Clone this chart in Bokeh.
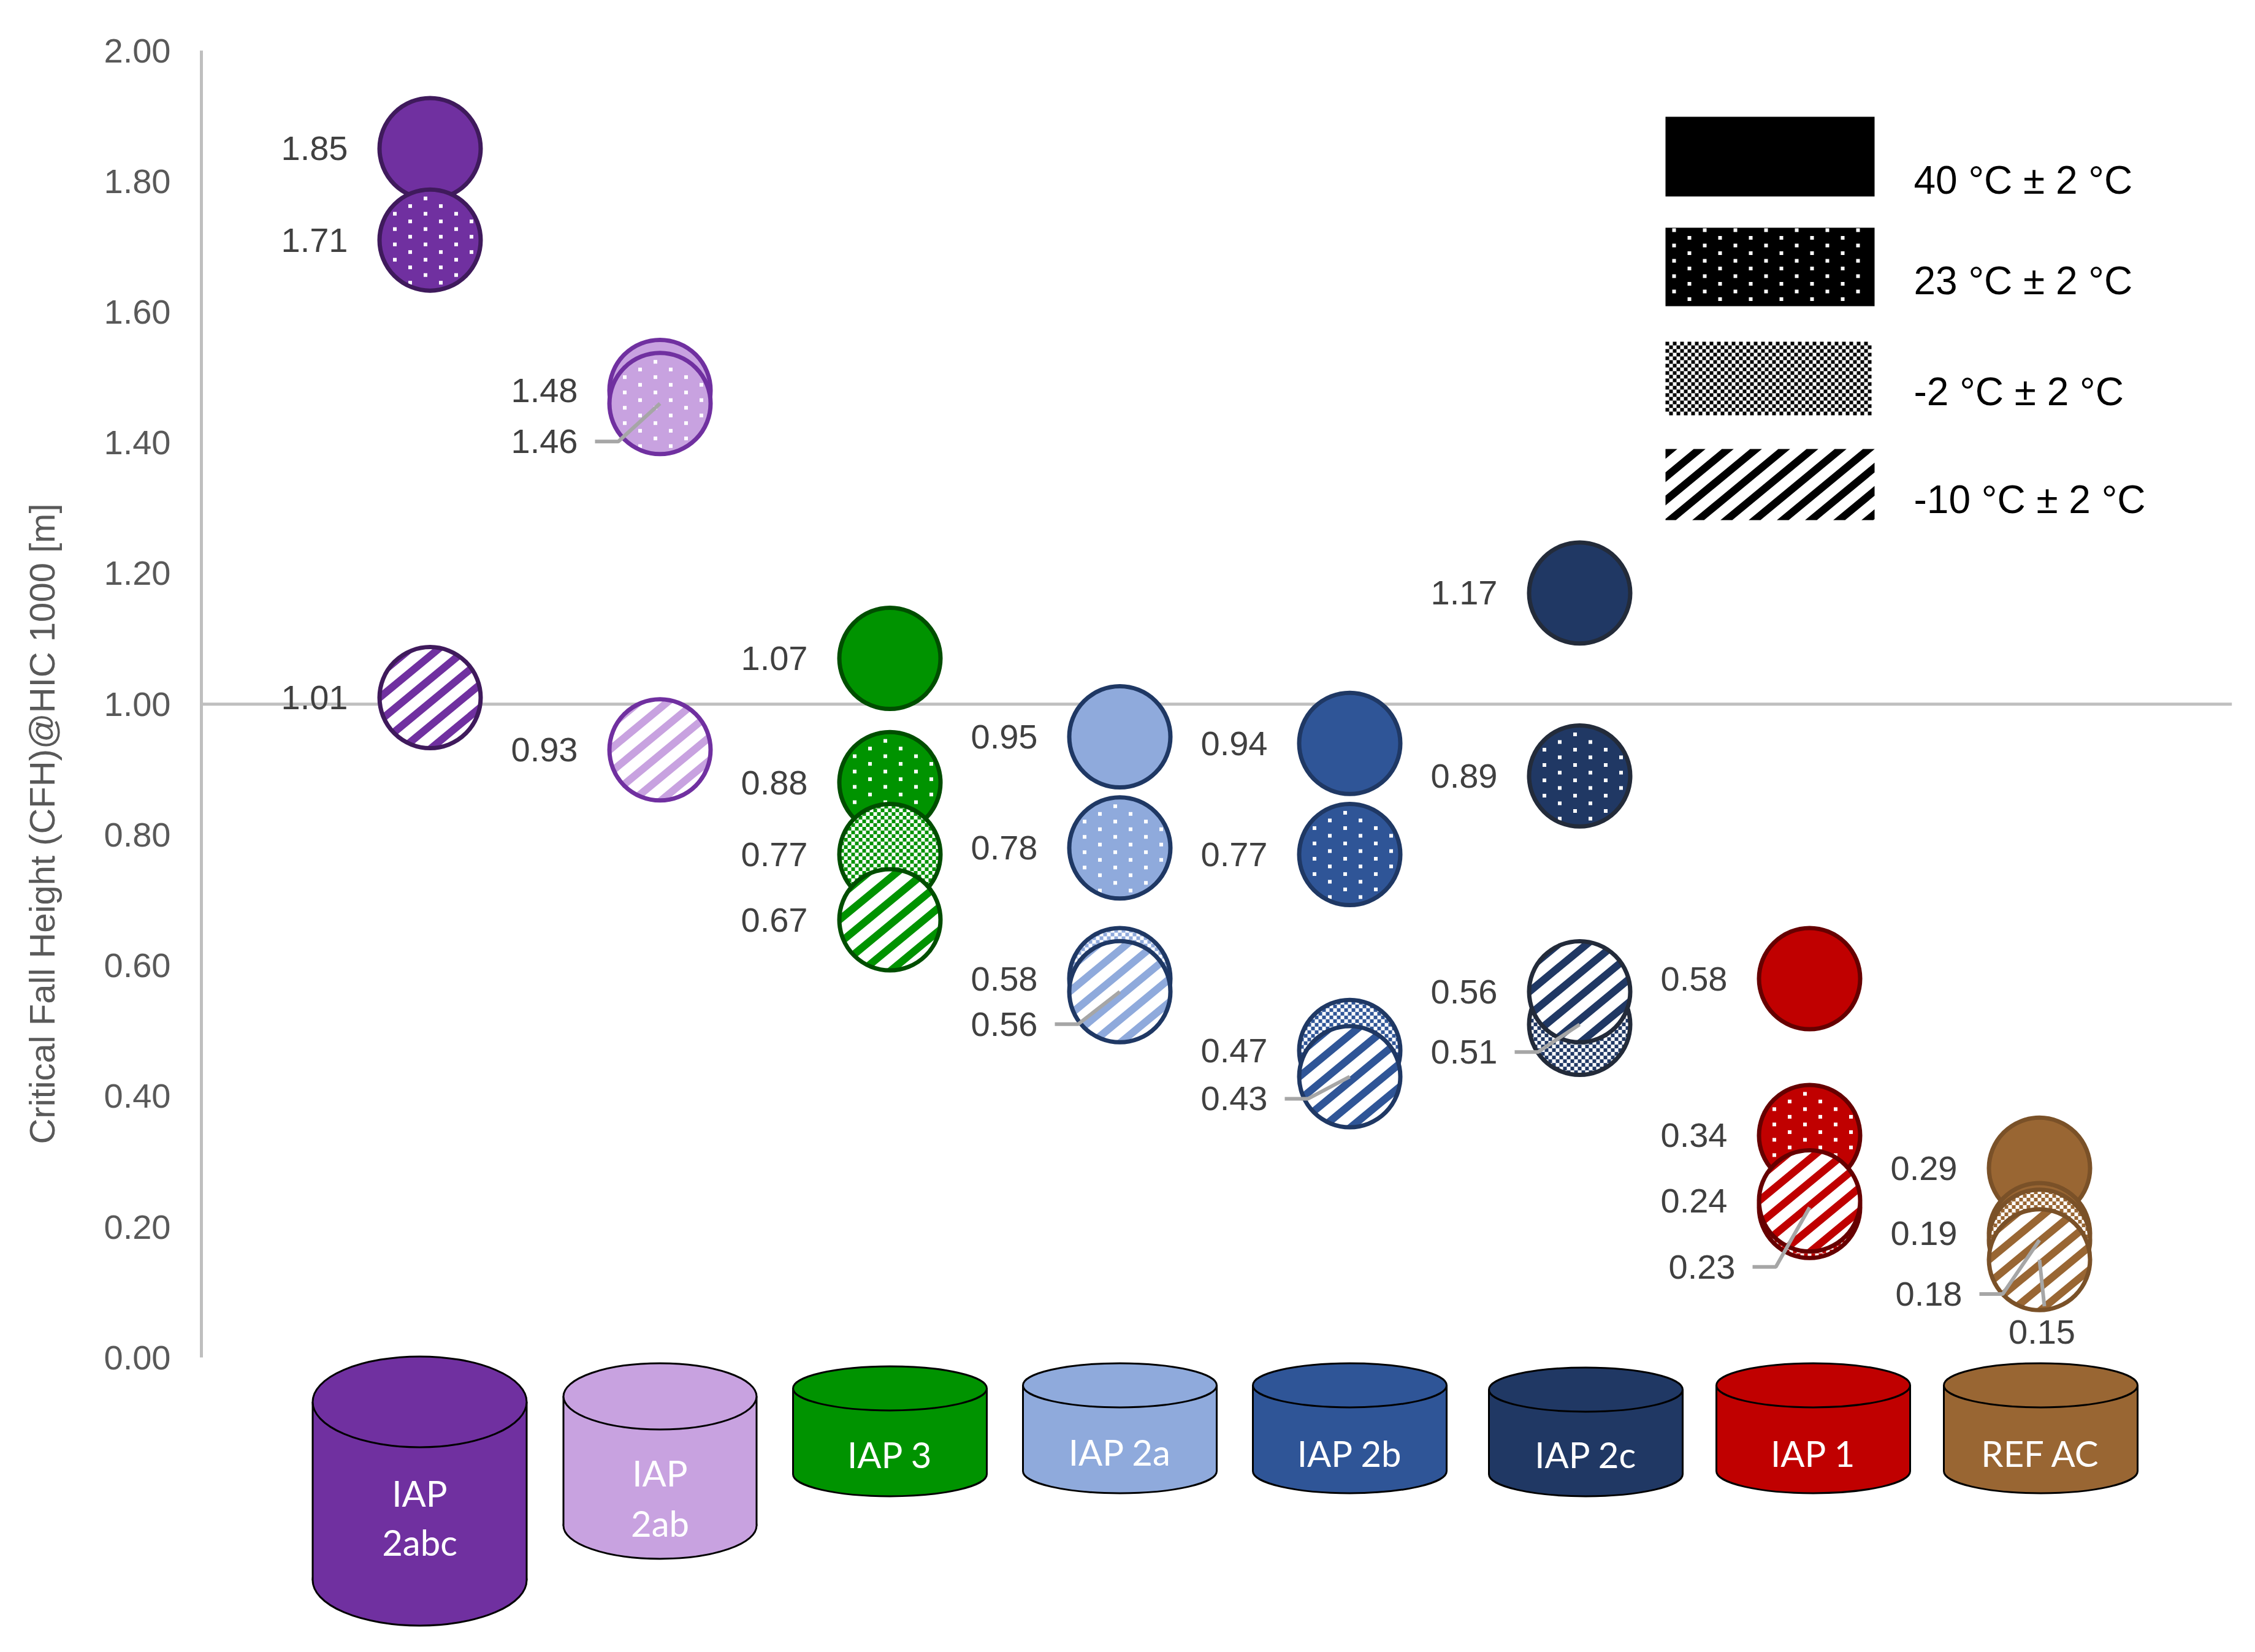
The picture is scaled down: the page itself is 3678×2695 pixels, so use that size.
import math
from bokeh.plotting import figure
from bokeh.models import ColumnDataSource, Range1d, Span, FixedTicker, NumeralTickFormatter
from bokeh.core.properties import value
from bokeh.embed import file_html
from bokeh.resources import INLINE

# ---------------- data ----------------
categories = ["IAP 2abc", "IAP 2ab", "IAP 3", "IAP 2a", "IAP 2b", "IAP 2c", "IAP 1", "REF AC"]
cylinder_labels = ["IAP\n2abc", "IAP\n2ab", "IAP 3", "IAP 2a", "IAP 2b", "IAP 2c", "IAP 1", "REF AC"]
temperatures = ["40 °C ± 2 °C", "23 °C ± 2 °C", "-2 °C ± 2 °C", "-10 °C ± 2 °C"]
cfh_40 = [1.85, 1.48, 1.07, 0.95, 0.94, 1.17, 0.58, 0.29]
cfh_23 = [1.71, 1.46, 0.88, 0.78, 0.77, 0.89, 0.34, 0.19]
cfh_m2 = [None, None, 0.77, 0.58, 0.47, 0.51, 0.23, 0.18]
cfh_m10 = [1.01, 0.93, 0.67, 0.56, 0.43, 0.56, 0.24, 0.15]
y_ticks = [0.0, 0.2, 0.4, 0.6, 0.8, 1.0, 1.2, 1.4, 1.6, 1.8, 2.0]
reference_line = 1.0
y_title = "Critical Fall Height (CFH)@HIC 1000 [m]"

# ---------------- styles ----------------
fill_colors = ["#7030A0", "#C8A2E0", "#009300", "#8FAADC", "#2F5597", "#203864", "#C00000", "#996633"]
edge_colors = ["#3F1A5C", "#7030A0", "#004E00", "#1F3864", "#1F3864", "#232B3A", "#660000", "#7A5128"]

W, H = 3662, 2679
ML, MR, MT = 328, 22, 8
FW, FH = W - ML - MR, H - MT
PXX = 375.0           # px per category step
PXY = 1066.2          # px per metre
X0_PAGE = 701.0       # page x of first category
ZERO_PAGE = 2214.4    # page y of value 0
X_START = (ML - X0_PAGE) / PXX
Y_END = (ZERO_PAGE - MT) / PXY
Y_START = Y_END - FH / PXY

LABEL_FONT = "Liberation Sans"
SIZE = 165            # circle diameter (px)
EDGE_W = 7

# pattern geometry (px)
DOT = 6
DOT_DX, DOT_DY = 50.0, 12.5
CELL = 6.0
STRIPE_H, STRIPE_V, STRIPE_FRAC = 46.0, 38.0, 0.42

# label displacement (px) for crowded points: (series, category): (dx, dy)
label_moves = {(1, 1): (0, 62), (3, 3): (0, 53), (3, 4): (0, 36),
               (2, 5): (0, 45), (2, 6): (13, 97), (2, 7): (8, 88)}
below_labels = {(3, 7): (4, 118)}
LABEL_DX = -134

cyl_dx = [-17, 0, 0, 0, 0, 10, 6, 2]
cyl_w = [349, 315, 316, 316, 316, 316, 316, 316]
cyl_ry = [74, 54, 36, 36, 36, 36, 36, 36]
cyl_top = [-2, 9, 14, 9, 9, 16, 9, 9]
cyl_h = [439, 319, 212, 212, 212, 210, 212, 212]
cyl_text_y = [[221, 301], [188, 270], [158], [154], [156], [158], [156], [156]]

LEG_X0, LEG_X1 = 2716, 3057
LEG_ROWS = [(190, 320), (371, 499), (557, 682), (732, 848)]
LEG_TEXT_X = 3121
LEG_TEXT_Y = [293, 457, 638, 814]


def page_x(X):
    return (X - X0_PAGE) / PXX


def page_y(Y):
    return (ZERO_PAGE - Y) / PXY


# ---------------- pattern helpers (px offsets, y down) ----------------
def clip(poly, a, b, c):
    """keep a*x + b*y <= c"""
    out = []
    m = len(poly)
    for i in range(m):
        P, Q = poly[i], poly[(i + 1) % m]
        fp = a * P[0] + b * P[1] - c
        fq = a * Q[0] + b * Q[1] - c
        if fp <= 0:
            out.append(P)
        if (fp <= 0) != (fq <= 0):
            t = fp / (fp - fq)
            out.append((P[0] + t * (Q[0] - P[0]), P[1] + t * (Q[1] - P[1])))
    return out


_n = math.hypot(STRIPE_H, STRIPE_V)
NX, NY = STRIPE_V / _n, STRIPE_H / _n
PERIOD = STRIPE_H * STRIPE_V / _n


def stripe_polys(shape, extent):
    polys = []
    k = int(extent / PERIOD) + 3
    for n in range(-k, k + 1):
        d0 = n * PERIOD
        d1 = d0 + STRIPE_FRAC * PERIOD
        poly = clip(shape, NX, NY, d1)
        poly = clip(poly, -NX, -NY, -d0)
        if len(poly) >= 3:
            polys.append(poly)
    return polys


def disk(r, n=144):
    return [(r * math.cos(2 * math.pi * i / n), r * math.sin(2 * math.pi * i / n)) for i in range(n)]


def dot_points(inside, x0, y0, x1, y1):
    pts = []
    j = 0
    y = y0
    while y <= y1:
        x = x0 + (DOT_DX / 2 if j % 2 else 0)
        while x <= x1:
            if inside(x, y):
                pts.append((x, y))
            x += DOT_DX
        y += DOT_DY
        j += 1
    return pts


def checker_cells(inside, x0, y0, nx, ny):
    pts = []
    for i in range(nx):
        for j in range(ny):
            if (i + j) % 2 == 0:
                cx = x0 + (i + 0.5) * CELL
                cy = y0 + (j + 0.5) * CELL
                if inside(cx, cy):
                    pts.append((cx, cy))
    return pts


# ---------------- figure ----------------
p = figure(width=W, height=H, output_backend="svg", toolbar_location=None,
           x_range=Range1d(X_START, X_START + FW / PXX),
           y_range=Range1d(Y_START, Y_END),
           x_axis_location=None,
           min_border_left=ML, min_border_right=MR, min_border_top=MT, min_border_bottom=0,
           outline_line_color=None, background_fill_color="white", border_fill_color="white")
p.grid.visible = False

yax = p.yaxis[0]
yax.ticker = FixedTicker(ticks=y_ticks)
yax.formatter = NumeralTickFormatter(format="0.00")
yax.bounds = (0, 2)
yax.axis_line_color = "#BFBFBF"
yax.axis_line_width = 5
yax.major_tick_line_color = None
yax.minor_tick_line_color = None
yax.major_tick_out = 0
yax.major_tick_in = 0
yax.major_label_standoff = 50
yax.major_label_text_font = LABEL_FONT
yax.major_label_text_font_size = "56px"
yax.major_label_text_color = "#595959"
yax.axis_label = y_title
yax.axis_label_text_font = LABEL_FONT
yax.axis_label_text_font_size = "58px"
yax.axis_label_text_color = "#595959"
yax.axis_label_text_font_style = "normal"
yax.axis_label_standoff = 66

p.add_layout(Span(location=reference_line, dimension="width", line_color="#BFBFBF",
                  line_width=5, level="underlay"))

# ---------------- cylinders (category labels) ----------------
for k, lab in enumerate(cylinder_labels):
    xc = k + cyl_dx[k] / PXX
    top_c = -(cyl_top[k] + cyl_ry[k]) / PXY
    bot_c = -(cyl_top[k] + cyl_h[k] - cyl_ry[k]) / PXY
    body_px = cyl_h[k] - 2 * cyl_ry[k]
    p.ellipse(x=[xc], y=[bot_c], width=cyl_w[k], height=2 * cyl_ry[k],
              width_units="screen", height_units="screen",
              fill_color=fill_colors[k], line_color="black", line_width=3)
    p.rect(x=[xc], y=[(top_c + bot_c) / 2], width=cyl_w[k], height=body_px,
           width_units="screen", height_units="screen",
           fill_color=fill_colors[k], line_color=None)
    half = cyl_w[k] / 2 / PXX
    p.segment(x0=[xc - half, xc + half], y0=[top_c, top_c],
              x1=[xc - half, xc + half], y1=[bot_c, bot_c],
              line_color="black", line_width=3)
    p.ellipse(x=[xc], y=[top_c], width=cyl_w[k], height=2 * cyl_ry[k],
              width_units="screen", height_units="screen",
              fill_color=fill_colors[k], line_color="black", line_width=3)
    lines = lab.split("\n")
    p.text(x=[xc] * len(lines), y=[-ty / PXY for ty in cyl_text_y[k]], text=lines,
           text_color="white", text_font=value("Lato"), text_font_size="58px",
           text_align="center", text_baseline="middle")

# ---------------- circles with patterns ----------------
R_IN = SIZE / 2.0
in_disk_dot = lambda x, y: math.hypot(x, y) <= R_IN - 4
in_disk_cell = lambda x, y: math.hypot(x, y) <= R_IN
DISK = disk(R_IN)

series = [cfh_40, cfh_23, cfh_m2, cfh_m10]
for s, vals in enumerate(series):
    ks = [k for k, v in enumerate(vals) if v is not None]
    xs = [k for k in ks]
    ys = [vals[k] for k in ks]
    base = [fill_colors[k] if s <= 1 else "white" for k in ks]
    edges = [edge_colors[k] for k in ks]
    src = ColumnDataSource(dict(x=xs, y=ys, fill=base, edge=edges))
    if s == 0:
        p.scatter(x="x", y="y", source=src, marker="circle", size=SIZE,
                  fill_color="fill", line_color="edge", line_width=EDGE_W)
        continue
    p.scatter(x="x", y="y", source=src, marker="circle", size=SIZE,
              fill_color="fill", line_color=None)
    if s == 1:
        px_, py_, pc_ = [], [], []
        for k in ks:
            for (dx, dy) in dot_points(in_disk_dot, -R_IN, -R_IN + 2, R_IN, R_IN):
                px_.append(k + dx / PXX); py_.append(vals[k] - dy / PXY); pc_.append("white")
        p.rect(x=px_, y=py_, width=DOT, height=DOT, width_units="screen", height_units="screen",
               fill_color=pc_, line_color=None)
    elif s == 2:
        px_, py_, pc_ = [], [], []
        n = int(2 * R_IN / CELL) + 2
        for k in ks:
            for (dx, dy) in checker_cells(in_disk_cell, -n * CELL / 2, -n * CELL / 2, n, n):
                px_.append(k + dx / PXX); py_.append(vals[k] - dy / PXY); pc_.append(fill_colors[k])
        p.rect(x=px_, y=py_, width=CELL, height=CELL, width_units="screen", height_units="screen",
               fill_color=pc_, line_color=None)
    else:
        pxs, pys, pcs = [], [], []
        for k in ks:
            for poly in stripe_polys(DISK, R_IN * 2):
                pxs.append([k + a / PXX for a, b in poly])
                pys.append([vals[k] - b / PXY for a, b in poly])
                pcs.append(fill_colors[k])
        p.patches(xs=pxs, ys=pys, fill_color=pcs, line_color=None)
    p.scatter(x="x", y="y", source=src, marker="circle", size=SIZE,
              fill_color=None, line_color="edge", line_width=EDGE_W)

# ---------------- leader lines & labels ----------------
lead_xs, lead_ys = [], []
rx, ry, rt, rdx, rdy = [], [], [], [], []
cx, cy, ct, cdx, cdy = [], [], [], [], []
for s, vals in enumerate(series):
    for k, v in enumerate(vals):
        if v is None:
            continue
        txt = f"{v:.2f}"
        pts = None
        if (s, k) in below_labels:
            dx, dy = below_labels[(s, k)]
            cx.append(k); cy.append(v); ct.append(txt); cdx.append(dx); cdy.append(dy)
            pts = [(dx + 4, dy - 42), (0, 0)]
        else:
            dx, dy = label_moves.get((s, k), (0, 0))
            rx.append(k); ry.append(v); rt.append(txt); rdx.append(LABEL_DX + dx); rdy.append(dy)
            if (s, k) in label_moves:
                lx = LABEL_DX + dx + 28
                pts = [(lx, dy), (lx + 38, dy), (0, 0)]
        if pts:
            lead_xs.append([k + a / PXX for a, b in pts])
            lead_ys.append([v - b / PXY for a, b in pts])

p.multi_line(xs=lead_xs, ys=lead_ys, line_color="#A6A6A6", line_width=6)

p.text(x="x", y="y", text="t", x_offset="dx", y_offset="dy",
       source=ColumnDataSource(dict(x=rx, y=ry, t=rt, dx=rdx, dy=rdy)),
       text_font=value(LABEL_FONT), text_font_size="56px", text_color="#404040",
       text_align="right", text_baseline="middle")
p.text(x="x", y="y", text="t", x_offset="dx", y_offset="dy",
       source=ColumnDataSource(dict(x=cx, y=cy, t=ct, dx=cdx, dy=cdy)),
       text_font=value(LABEL_FONT), text_font_size="56px", text_color="#404040",
       text_align="center", text_baseline="middle")

# ---------------- legend (drawn) ----------------
for s, (y0, y1) in enumerate(LEG_ROWS):
    base = "black" if s <= 1 else "white"
    p.quad(left=[page_x(LEG_X0)], right=[page_x(LEG_X1)], top=[page_y(y0)], bottom=[page_y(y1)],
           fill_color=base, line_color=None)
    wpx, hpx = LEG_X1 - LEG_X0, y1 - y0
    if s == 1:
        inside = lambda x, y, w=wpx, h=hpx: 2 <= x <= w - 3 and 2 <= y <= h - 3
        pts = dot_points(inside, 14, 4, wpx, hpx)
        p.rect(x=[page_x(LEG_X0 + a) for a, b in pts], y=[page_y(y0 + b) for a, b in pts],
               width=DOT, height=DOT, width_units="screen", height_units="screen",
               fill_color="white", line_color=None)
    elif s == 2:
        inside = lambda x, y, w=wpx, h=hpx: 0 <= x <= w and 0 <= y <= h
        pts = checker_cells(inside, 0, 0, int(wpx / CELL), int(hpx / CELL))
        p.rect(x=[page_x(LEG_X0 + a) for a, b in pts], y=[page_y(y0 + b) for a, b in pts],
               width=CELL, height=CELL, width_units="screen", height_units="screen",
               fill_color="black", line_color=None)
    elif s == 3:
        rect = [(0, 0), (wpx, 0), (wpx, hpx), (0, hpx)]
        polys = stripe_polys(rect, wpx + hpx)
        p.patches(xs=[[page_x(LEG_X0 + a) for a, b in poly] for poly in polys],
                  ys=[[page_y(y0 + b) for a, b in poly] for poly in polys],
                  fill_color="black", line_color=None)

p.text(x=[page_x(LEG_TEXT_X)] * 4, y=[page_y(v) for v in LEG_TEXT_Y], text=temperatures,
       text_font=value(LABEL_FONT), text_font_size="64px", text_color="black",
       text_align="left", text_baseline="middle")

open("out.html", "w").write(file_html(p, INLINE))
